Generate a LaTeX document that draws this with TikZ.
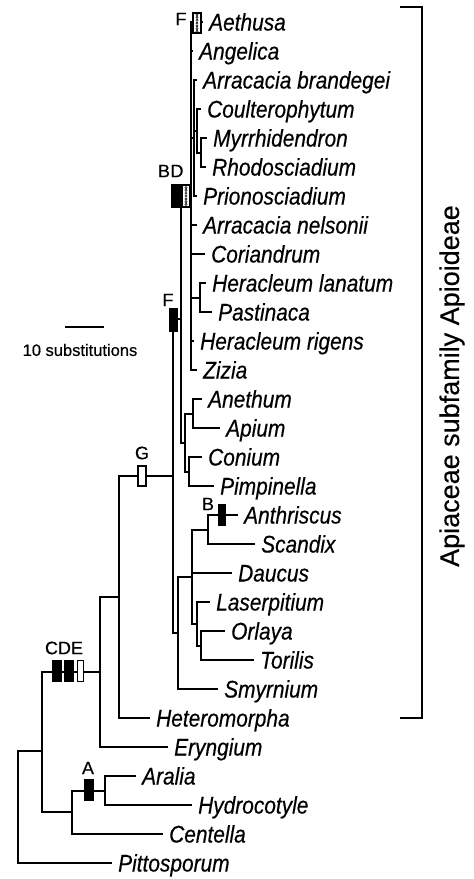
\documentclass[tikz,border=0pt]{standalone}
\usepackage{fontspec}
\newfontfamily\taxfont{Liberation Sans}[FakeStretch=0.87,FakeBold=0.4]
\newfontfamily\plainfont{Liberation Sans}[FakeBold=0.4]
\begin{document}
\begin{tikzpicture}[x=1pt,y=-1pt,
  edge/.style={line width=2pt},
  leaf/.style={anchor=west,inner xsep=6pt,inner ysep=0pt,text height=17pt,text depth=0pt,
    font=\taxfont\itshape\fontsize{24}{28}\selectfont},
  lab/.style={inner sep=0pt,font=\plainfont\fontsize{18}{20}\selectfont},
  bar/.style={draw,line width=1.2pt,inner sep=0pt,minimum width=8pt,minimum height=21pt},
  blackbar/.style={bar,fill=black},
  whitebar/.style={bar,fill=white},
  dotbar/.style={bar,fill=white,path picture={
      \foreach \k in {-3,...,3}{\draw[line width=0.5pt] ([yshift=\k*2.8pt]path picture bounding box.center) circle (1.1pt);}}}
]
\useasboundingbox (0,0) rectangle (474,879);

% ---------- internal nodes ----------
\coordinate (root) at (18,807);
\coordinate (N1) at (42,751);
\coordinate (NA) at (72,812);
\coordinate (Nar) at (105,790.5);
\coordinate (NAp) at (100,672);
\coordinate (N2) at (119,597);
\coordinate (N3) at (173,476);
\coordinate (NF) at (181,319);
\coordinate (U) at (191,196);
\coordinate (S2) at (194,138);
\coordinate (S1) at (197,131);
\coordinate (MR) at (201,152.5);
\coordinate (H) at (200,297.5);
\coordinate (L) at (185,442.5);
\coordinate (A1) at (193,413.5);
\coordinate (A2) at (189,471.5);
\coordinate (SM) at (178,633);
\coordinate (Dn) at (192,577);
\coordinate (Bn) at (208,529.5);
\coordinate (LOT) at (197,624);
\coordinate (OT) at (201,645.5);

% ---------- leaves ----------
\node[leaf] (aethusa) at (203,22) {Aethusa};
\node[leaf] (angelica) at (193,51) {Angelica};
\node[leaf] (arrbra) at (197,80) {Arracacia brandegei};
\node[leaf] (coulter) at (201,109) {Coulterophytum};
\node[leaf] (myrr) at (207,138) {Myrrhidendron};
\node[leaf] (rhodo) at (206,167) {Rhodosciadium};
\node[leaf] (prion) at (197,196) {Prionosciadium};
\node[leaf] (arrnel) at (197,225) {Arracacia nelsonii};
\node[leaf] (corian) at (205,254) {Coriandrum};
\node[leaf] (herlan) at (206,283) {Heracleum lanatum};
\node[leaf] (pastin) at (212,312) {Pastinaca};
\node[leaf] (herrig) at (194,341) {Heracleum rigens};
\node[leaf] (zizia) at (197,370) {Zizia};
\node[leaf] (anethum) at (202,399) {Anethum};
\node[leaf] (apium) at (220,428) {Apium};
\node[leaf] (conium) at (202,457) {Conium};
\node[leaf] (pimp) at (214,486) {Pimpinella};
\node[leaf] (anthr) at (238,515) {Anthriscus};
\node[leaf] (scandix) at (255,544) {Scandix};
\node[leaf] (daucus) at (232,573) {Daucus};
\node[leaf] (laserp) at (210,602) {Laserpitium};
\node[leaf] (orlaya) at (225,631) {Orlaya};
\node[leaf] (torilis) at (254,660) {Torilis};
\node[leaf] (smyrn) at (218,689) {Smyrnium};
\node[leaf] (hetero) at (150,718) {Heteromorpha};
\node[leaf] (eryng) at (168,747) {Eryngium};
\node[leaf] (aralia) at (136,776) {Aralia};
\node[leaf] (hydro) at (192,805) {Hydrocotyle};
\node[leaf] (cent) at (163,834) {Centella};
\node[leaf] (pitto) at (112,863) {Pittosporum};

% ---------- edges ----------
\draw[edge] (root) |- (N1);
\draw[edge] (root) |- (pitto.west);
\draw[edge] (N1) |- (NAp);
\draw[edge] (N1) |- (NA);
\draw[edge] (NA) |- (Nar);
\draw[edge] (NA) |- (cent.west);
\draw[edge] (Nar) |- (aralia.west);
\draw[edge] (Nar) |- (hydro.west);
\draw[edge] (NAp) |- (N2);
\draw[edge] (NAp) |- (eryng.west);
\draw[edge] (N2) |- (N3);
\draw[edge] (N2) |- (hetero.west);
\draw[edge] (N3) |- (NF);
\draw[edge] (N3) |- (SM);
\draw[edge] (NF) |- (U);
\draw[edge] (NF) |- (L);
\draw[edge] (U) |- (aethusa.west);
\draw[edge] (U) |- (angelica.west);
\draw[edge] (U) |- (S2);
\draw[edge] (U) |- (arrnel.west);
\draw[edge] (U) |- (corian.west);
\draw[edge] (U) |- (H);
\draw[edge] (U) |- (herrig.west);
\draw[edge] (U) |- (zizia.west);
\draw[edge] (S2) |- (arrbra.west);
\draw[edge] (S2) |- (S1);
\draw[edge] (S2) |- (prion.west);
\draw[edge] (S1) |- (coulter.west);
\draw[edge] (S1) |- (MR);
\draw[edge] (MR) |- (myrr.west);
\draw[edge] (MR) |- (rhodo.west);
\draw[edge] (H) |- (herlan.west);
\draw[edge] (H) |- (pastin.west);
\draw[edge] (L) |- (A1);
\draw[edge] (L) |- (A2);
\draw[edge] (A1) |- (anethum.west);
\draw[edge] (A1) |- (apium.west);
\draw[edge] (A2) |- (conium.west);
\draw[edge] (A2) |- (pimp.west);
\draw[edge] (SM) |- (Dn);
\draw[edge] (SM) |- (smyrn.west);
\draw[edge] (Dn) |- (Bn);
\draw[edge] (Dn) |- (daucus.west);
\draw[edge] (Dn) |- (LOT);
\draw[edge] (Bn) |- (anthr.west);
\draw[edge] (Bn) |- (scandix.west);
\draw[edge] (LOT) |- (laserp.west);
\draw[edge] (LOT) |- (OT);
\draw[edge] (OT) |- (orlaya.west);
\draw[edge] (OT) |- (torilis.west);

% ---------- character bars ----------
\node[dotbar,minimum height=20pt] (barFtop) at (197,23) {};
\node[blackbar,minimum width=10pt,minimum height=22pt] (barB1) at (177,196) {};
\node[dotbar,minimum height=22pt] (barD1) at (186,196) {};
\node[blackbar,minimum width=7pt,minimum height=22pt] (barF2) at (173.5,320) {};
\node[whitebar,minimum height=20pt] (barG) at (142,476) {};
\node[blackbar] (barC) at (57,671) {};
\node[blackbar] (barD2) at (69,671) {};
\node[whitebar,minimum width=6pt] (barE) at (80.5,671) {};
\node[blackbar,minimum height=20pt] (barA) at (89,790) {};
\node[blackbar,minimum width=7pt,minimum height=20pt] (barB2) at (222,515) {};

% ---------- bar labels ----------
\node[lab] (labFtop) at (181,19) {F};
\node[lab] (labB1) at (164,171) {B};
\node[lab] (labD1) at (177,171) {D};
\node[lab] (labF2) at (168,300) {F};
\node[lab] (labG) at (142,453) {G};
\node[lab] (labCDE) at (64,648) {CDE};
\node[lab] (labA) at (88,768) {A};
\node[lab] (labB2) at (208,504) {B};

% ---------- scale bar ----------
\coordinate (scL) at (65,327);
\coordinate (scR) at (104,327);
\draw[edge] (scL) -- (scR);
\node[inner sep=0pt,font=\plainfont\fontsize{16.5}{20}\selectfont] (sclab) at (80,350) {10 substitutions};

% ---------- bracket ----------
\coordinate (brT0) at (400,7);
\coordinate (brT1) at (422,7);
\coordinate (brB1) at (422,718);
\coordinate (brB0) at (400,718);
\draw[line width=1.6pt] (brT0) -- (brT1) -- (brB1) -- (brB0);
\node[rotate=90,inner sep=0pt,font=\plainfont\fontsize{27}{30}\selectfont] (brlab) at (452,386) {Apiaceae subfamily Apioideae};
\end{tikzpicture}
\end{document}
